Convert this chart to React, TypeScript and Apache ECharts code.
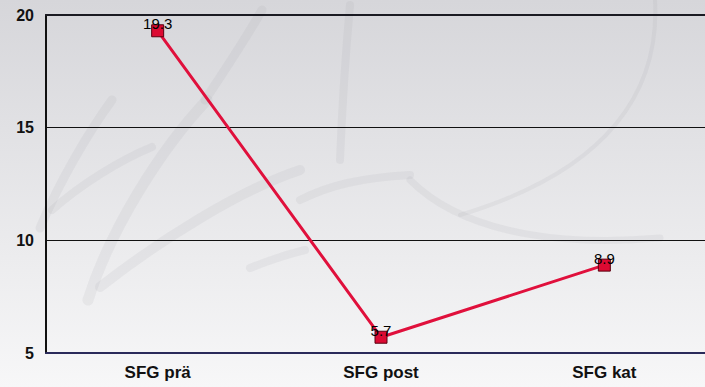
import React, { useEffect, useRef } from "react";
import * as echarts from "echarts";

const categories = ["SFG prä", "SFG post", "SFG kat"];
const values = [19.3, 5.7, 8.9];
const yTicks = [5, 10, 15, 20];

const FONT = 'Arial, "Liberation Sans", sans-serif';

export default function App() {
  const ref = useRef<HTMLDivElement>(null);
  useEffect(() => {
    document.body.style.margin = "0";
    document.body.style.overflow = "hidden";
    const chart = echarts.init(ref.current!, null, { renderer: "svg" });
    const swoosh = (
      x1: number, y1: number, cx1: number, cy1: number, cx2: number, cy2: number, x2: number, y2: number, w: number
    ) => ({
      type: "bezierCurve",
      silent: true,
      z: -1,
      shape: { x1, y1, cpx1: cx1, cpy1: cy1, cpx2: cx2, cpy2: cy2, x2, y2 },
      style: { stroke: "rgba(160,160,170,0.13)", lineWidth: w, lineCap: "round", fill: null },
    });
    chart.setOption({
      animation: false,
      backgroundColor: {
        type: "linear", x: 0, y: 0, x2: 0, y2: 1,
        colorStops: [
          { offset: 0, color: "#d6d6da" },
          { offset: 1, color: "#f7f7f8" },
        ],
      },
      graphic: [
        swoosh(40, 228, 60, 180, 90, 130, 112, 100, 9),
        swoosh(52, 210, 80, 185, 120, 160, 152, 147, 8),
        swoosh(88, 300, 110, 230, 160, 150, 207, 100, 11),
        swoosh(100, 287, 160, 240, 240, 190, 300, 170, 10),
        swoosh(250, 268, 265, 262, 285, 255, 305, 250, 8),
        swoosh(205, 100, 225, 70, 245, 40, 262, 10, 9),
        swoosh(350, 5, 345, 60, 342, 110, 340, 160, 8),
        swoosh(300, 200, 330, 185, 360, 178, 410, 175, 8),
        swoosh(410, 180, 470, 240, 580, 245, 660, 238, 7),
        swoosh(655, 0, 660, 90, 610, 170, 460, 215, 4),
      ],
      grid: {
        left: 46, top: 15, width: 670, height: 338,
        outerBoundsMode: "none",
        containLabel: false,
        show: false,
      },
      xAxis: [
        {
          type: "category",
          data: categories,
          axisLine: { show: true, lineStyle: { color: "#2a2a5a", width: 2 } },
          axisTick: { show: false },
          axisLabel: { color: "#111", fontWeight: "bold", fontSize: 17, fontFamily: FONT, margin: 11 },
          splitLine: { show: false },
          z: 4,
        },
        {
          type: "category",
          position: "top",
          data: categories,
          axisLine: { show: true, lineStyle: { color: "#1a1a22", width: 2 } },
          axisTick: { show: false },
          axisLabel: { show: false },
          splitLine: { show: false },
        },
      ],
      yAxis: {
        type: "value",
        min: yTicks[0],
        max: yTicks[yTicks.length - 1],
        interval: 5,
        axisLine: { show: true, lineStyle: { color: "#111", width: 2 } },
        axisTick: { show: false },
        axisLabel: { color: "#111", fontWeight: "bold", fontSize: 16, fontFamily: FONT, margin: 12 },
        splitLine: { show: true, lineStyle: { color: "#111", width: 1 } },
      },
      series: [
        {
          type: "line",
          data: values,
          symbol: "rect",
          symbolSize: 12,
          lineStyle: { color: "#e0103c", width: 3 },
          itemStyle: { color: "#dc0a32", borderColor: "#5a0010", borderWidth: 1 },
          label: {
            show: true,
            position: "top",
            distance: -7,
            color: "#000",
            fontSize: 15,
            fontFamily: FONT,
          },
          z: 5,
        },
      ],
    });
    return () => chart.dispose();
  }, []);
  return <div ref={ref} style={{ width: 705, height: 387, overflow: "hidden" }} />;
}
